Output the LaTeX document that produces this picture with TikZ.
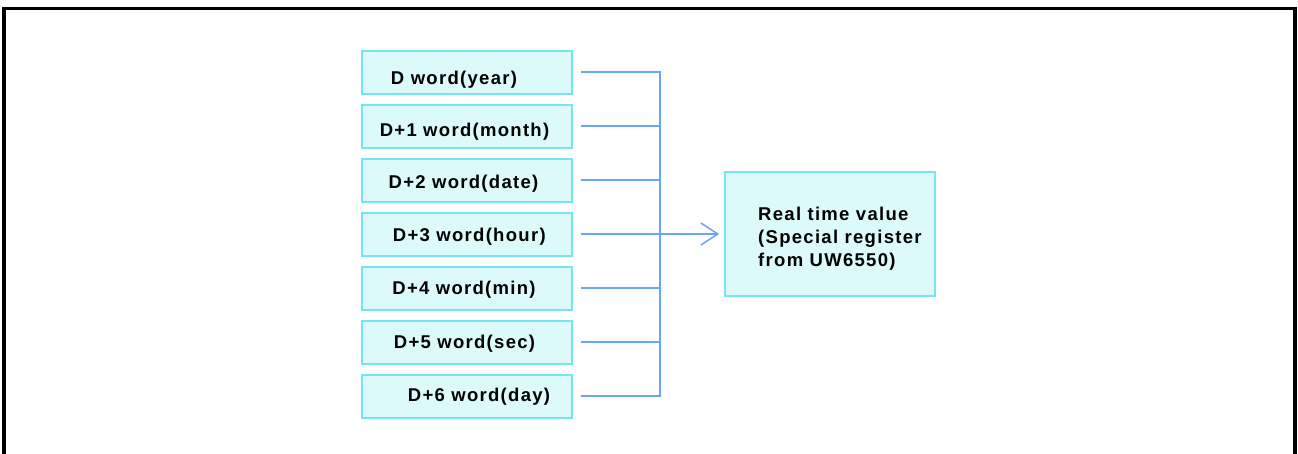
\documentclass[tikz,border=0pt]{standalone}
\usepackage{fontspec}
\setmainfont{Liberation Sans}[LetterSpace=7]
\usetikzlibrary{arrows.meta}
\definecolor{boxfill}{RGB}{220,250,250}
\definecolor{boxline}{RGB}{115,230,240}
\definecolor{wire}{RGB}{105,165,255}
\tikzset{
  regbox/.style={draw=boxline, fill=boxfill, line width=1.5pt, minimum width=210pt, minimum height=43pt, inner sep=0pt},
  boxtext/.style={font=\bfseries\fontsize{18.5}{23.3}\selectfont, inner sep=0pt, anchor=base},
  wireline/.style={draw=wire, line width=1.5pt},
}
\begin{document}
\begin{tikzpicture}[x=1pt,y=-1pt]
\useasboundingbox (0,0) rectangle (1298,454);
\draw[line width=3.5pt] (4,454) -- (4,8.5) -- (1295,8.5) -- (1295,454);
% left register boxes
\node[regbox] (b1) at (467,72.5) {};
\node[regbox] (b2) at (467,126.5) {};
\node[regbox] (b3) at (467,180.5) {};
\node[regbox] (b4) at (467,234.5) {};
\node[regbox] (b5) at (467,288.5) {};
\node[regbox] (b6) at (467,342.5) {};
\node[regbox] (b7) at (467,396.5) {};
\node[boxtext] (t1) at (454,84.3) {D word(year)};
\node[boxtext] (t2) at (464.5,136.7) {D+1 word(month)};
\node[boxtext] (t3) at (463.5,188.3) {D+2 word(date)};
\node[boxtext] (t4) at (469.3,241.7) {D+3 word(hour)};
\node[boxtext] (t5) at (464,294.3) {D+4 word(min)};
\node[boxtext] (t6) at (464.5,348.3) {D+5 word(sec)};
\node[boxtext] (t7) at (479,401.7) {D+6 word(day)};
% result box
\node[regbox, minimum height=124pt] (rt) at (830,234) {};
\node[boxtext, anchor=base west, align=left] (rtt) at (758,266.7) {Real time value\\(Special register\\from UW6550)};
% bus
\coordinate (top) at (660,72);
\coordinate (bot) at (660,396);
\draw[wireline] ([xshift=8pt]b1.east |- 0,72) -- (top) -- (bot) -- ([xshift=8pt]b7.east |- 0,396);
\foreach \n/\y in {b2/126,b3/180,b5/288,b6/342}{
  \draw[wireline] ([xshift=8pt]\n.east |- 0,\y) -- (660,\y);
}
\draw[wireline, -{Straight Barb[length=17pt,width=22pt,line width=1.5pt]}] ([xshift=8pt]b4.east |- 0,234) -- ([xshift=-5pt]rt.west);
\end{tikzpicture}
\end{document}
